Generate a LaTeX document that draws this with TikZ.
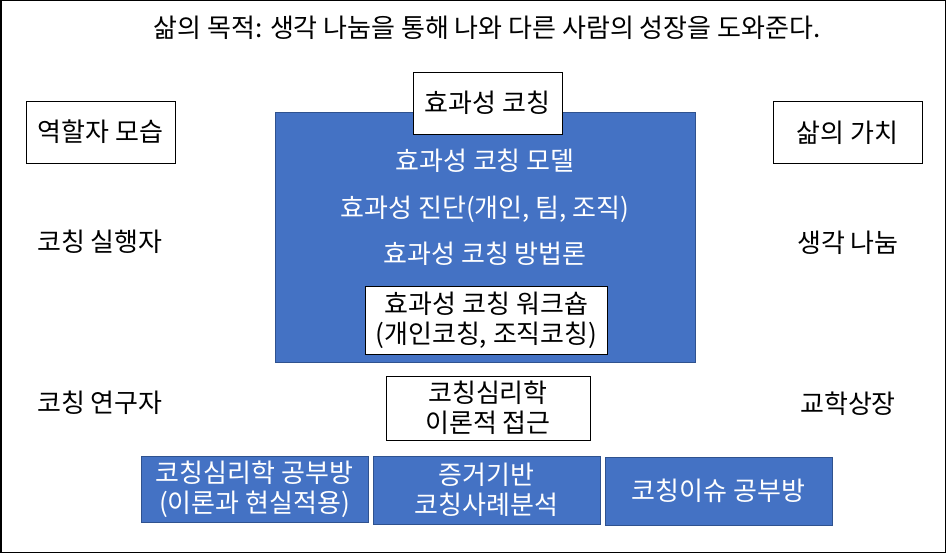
\documentclass[tikz,border=0pt]{standalone}
\usepackage{fontspec}
\setmainfont{Noto Sans CJK KR}
\usepackage{tikz}
\definecolor{BoxBlue}{HTML}{4472C4}
\definecolor{BoxEdge}{HTML}{2F528F}

\tikzset{
  plain/.style={font=\fontsize{26}{30}\selectfont, align=center, inner sep=0pt},
  wbox/.style={plain, draw=black, line width=0.9pt, fill=white},
  bbox/.style={plain, draw=BoxEdge, line width=0.9pt, fill=BoxBlue, text=white}
}

\begin{document}
\begin{tikzpicture}[x=1pt, y=-1pt]
  \useasboundingbox (0,0) rectangle (946,553);
  \draw[line width=1.5pt] (0.75,0.75) rectangle (945.25,552.25);
  \node[plain] (goal) at (487,28) {삶의 목적: 생각 나눔을 통해 나와 다른 사람의 성장을 도와준다.};
  % central block
  \node[bbox, minimum width=420pt, minimum height=250pt] (core) at (485,237) {};
  \node[wbox, minimum width=149pt, minimum height=62pt] (eff) at (487.5,103) {효과성 코칭};
  \node[plain, text=white] (model) at (485,161) {효과성 코칭 모델};
  \node[plain, text=white] (diag) at (485,209) {효과성 진단(개인, 팀, 조직)};
  \node[plain, text=white] (method) at (485,254) {효과성 코칭 방법론};
  \node[wbox, minimum width=242pt, minimum height=68pt] (shop) at (486.5,320) {효과성 코칭 워크숍\\(개인코칭, 조직코칭)};
  % left and right columns
  \node[wbox, minimum width=149pt, minimum height=62pt] (role) at (100.5,132) {역할자 모습};
  \node[plain] (doer) at (100,242) {코칭 실행자};
  \node[plain] (research) at (100,403) {코칭 연구자};
  \node[wbox, minimum width=149pt, minimum height=62pt] (value) at (847.5,132.5) {삶의 가치};
  \node[plain] (share) at (848,243) {생각 나눔};
  \node[plain] (grow) at (848,404) {교학상장};
  % lower boxes
  \node[wbox, minimum width=204pt, minimum height=64pt] (theory) at (488,408) {코칭심리학\\이론적 접근};
  \node[bbox, minimum width=227pt, minimum height=66pt] (study) at (254.5,489) {코칭심리학 공부방\\(이론과 현실적용)};
  \node[bbox, minimum width=227pt, minimum height=68pt] (cases) at (486.5,490) {증거기반\\코칭사례분석};
  \node[bbox, minimum width=227pt, minimum height=68pt] (issues) at (718.5,491) {코칭이슈 공부방};
\end{tikzpicture}
\end{document}
